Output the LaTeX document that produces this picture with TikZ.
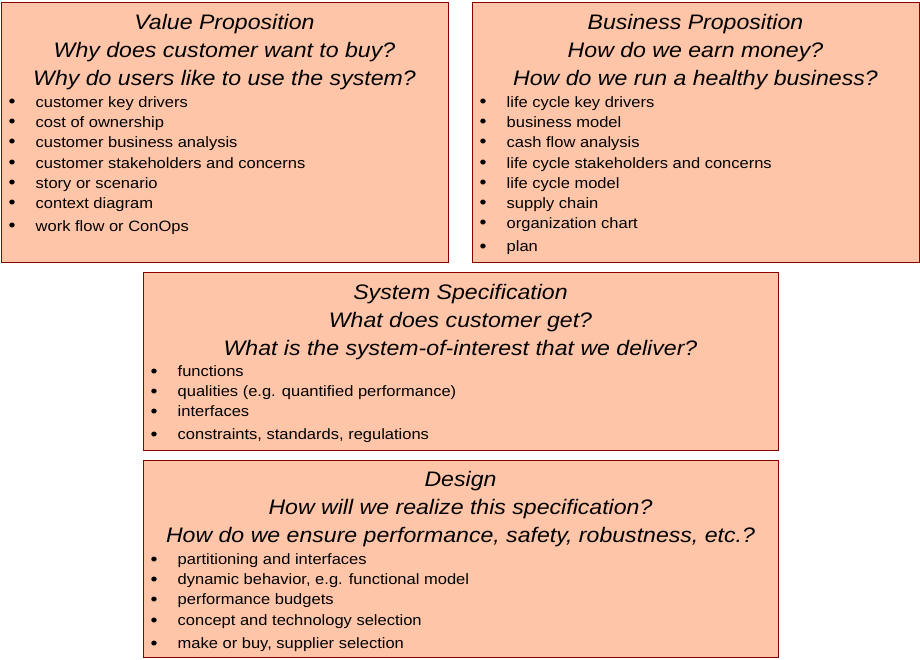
\documentclass[tikz,border=0pt]{standalone}
\usepackage{fontspec}
\setmainfont{Liberation Sans}[FakeStretch=1.1]
\definecolor{peach}{RGB}{255,197,168}
\definecolor{boxred}{RGB}{139,0,0}

\tikzset{
  box/.style={draw=boxred, fill=peach, line width=1pt, inner sep=0pt},
  title/.style={anchor=north, inner sep=0pt, align=center,
    font=\fontsize{21}{28}\selectfont\itshape},
  item/.style={anchor=base west, inner sep=0pt, font=\fontsize{15}{18}\selectfont}
}
\newcommand{\bul}[1]{\makebox[27pt][l]{\raisebox{-0.5pt}{\fontsize{18}{18}\selectfont\textbullet}}#1}

\begin{document}
\begin{tikzpicture}[x=1pt, y=-1pt]
            \useasboundingbox (0,0) rectangle (920,660);

            % Draw boxes
            \node[box, minimum width=447pt, minimum height=259pt] (vp) at (224.5,132.5) {};
            \node[box, minimum width=447pt, minimum height=259pt] (bp) at (695.5,132.5) {};
            \node[box, minimum width=635pt, minimum height=178pt] (spec) at (460.5,361) {};
            \node[box, minimum width=635pt, minimum height=197pt] (design) at (460.5,558.5) {};

            % Titles
            \node[title] (vptitle) at ([yshift=-12pt]vp.north)
              {Value Proposition\\Why does customer want to buy?\\Why do users like to use the system?};
            \node[title] (bptitle) at ([yshift=-12pt]bp.north)
              {Business Proposition\\How do we earn money?\\How do we run a healthy business?};
            \node[title] (spectitle) at ([yshift=-12.5pt]spec.north)
              {System Specification\\What does customer get?\\What is the system-of-interest that we deliver?};
            \node[title] (designtitle) at ([yshift=-12pt]design.north)
              {Design\\How will we realize this specification?\\How do we ensure performance, safety, robustness, etc.?};

            % Bullet lists
            \foreach \dy/\t [count=\i] in {105/customer key drivers, 125/cost of ownership,
                145/customer business analysis, 166/customer stakeholders and concerns,
                186/story or scenario, 206/context diagram, 229/work flow or ConOps}
              \node[item] (vpitem\i) at ([xshift=8pt,yshift=-\dy pt]vp.north west) {\bul{\t}};
            \foreach \dy/\t [count=\i] in {105/life cycle key drivers, 125/business model,
                145/cash flow analysis, 166/life cycle stakeholders and concerns,
                186/life cycle model, 206/supply chain, 226/organization chart, 249/plan}
              \node[item] (bpitem\i) at ([xshift=8pt,yshift=-\dy pt]bp.north west) {\bul{\t}};
            \foreach \dy/\t [count=\i] in {105/functions, 125/qualities (e.g. quantified performance),
                145/interfaces, 168/{constraints, standards, regulations}}
              \node[item] (specitem\i) at ([xshift=8pt,yshift=-\dy pt]spec.north west) {\bul{\t}};
            \foreach \dy/\t [count=\i] in {105/partitioning and interfaces,
                125/{dynamic behavior, e.g. functional model}, 145/performance budgets,
                166/concept and technology selection, 189/{make or buy, supplier selection}}
              \node[item] (designitem\i) at ([xshift=8pt,yshift=-\dy pt]design.north west) {\bul{\t}};
        \end{tikzpicture}
\end{document}
